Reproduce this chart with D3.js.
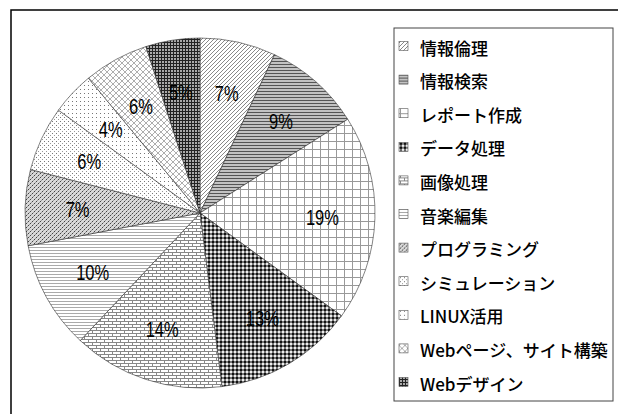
<!DOCTYPE html>
<html lang="ja">
<head>
<meta charset="UTF-8">
<title>pie</title>
<style>
  body { margin: 0; background: #fff; }
  svg { display: block; }
  .pct { font-family: "Liberation Sans", Arial, sans-serif; font-size: 22px; fill: #000; }
  .leg { font-family: "Noto Sans CJK JP", sans-serif; font-size: 17px; font-weight: 500; fill: #000; }
</style>
</head>
<body>
<div id="chart"></div>
<script src="https://d3js.org/d3.v7.min.js"></script>
<script>
// data
const categories = ["情報倫理", "情報検索", "レポート作成", "データ処理", "画像処理", "音楽編集",
  "プログラミング", "シミュレーション", "LINUX活用", "Webページ、サイト構築", "Webデザイン"];
const percents = [7, 9, 19, 13, 14, 10, 7, 6, 4, 6, 5];

const width = 618, height = 414;
const cx = 200, cy = 213, radius = 175;

const svg = d3.select("#chart").append("svg")
  .attr("width", width)
  .attr("height", height);

// fill patterns, one per slice
const defs = svg.append("defs");
function pattern(id, w, h, draw) {
  const p = defs.append("pattern")
    .attr("id", id)
    .attr("patternUnits", "userSpaceOnUse")
    .attr("width", w).attr("height", h);
  draw(p);
}
function bg(p, w, h, c) { p.append("rect").attr("width", w).attr("height", h).attr("fill", c); }
function dot(p, x, y, c, s) { p.append("rect").attr("x", x).attr("y", y).attr("width", s || 1).attr("height", s || 1).attr("fill", c); }
function line(p, d, c, sw) { p.append("path").attr("d", d).attr("stroke", c).attr("stroke-width", sw || 1).attr("fill", "none"); }

const patSize = [[4,4],[3,3],[8,8],[4,4],[8,6],[3,3],[4,4],[4,4],[4,4],[6,6],[3,3]];
const drawers = [
  p => { bg(p, 4, 4, "#fff"); line(p, "M-1,1L1,-1M0,4L4,0M3,5L5,3", "#888", 1); },
  p => { bg(p, 3, 3, "#fff"); line(p, "M0,1.5H3", "#555", 1.7); },
  p => { bg(p, 8, 8, "#fff"); line(p, "M0.5,0V8M0,0.5H8", "#999", 1); },
  p => { bg(p, 4, 4, "#777"); dot(p, 0, 0, "#111", 2); dot(p, 2, 2, "#eee", 2); },
  p => { bg(p, 8, 6, "#fff"); line(p, "M0,0.5H8M0,3.5H8M0.5,0V3M4.5,3V6", "#888", 1); },
  p => { bg(p, 3, 3, "#fff"); line(p, "M0,1.5H3", "#aaa", 1); },
  p => { bg(p, 4, 4, "#d8d8d8"); dot(p, 0, 0, "#444"); dot(p, 2, 2, "#444"); dot(p, 1, 3, "#999"); dot(p, 3, 1, "#999"); },
  p => { bg(p, 4, 4, "#fff"); dot(p, 0, 0, "#777"); dot(p, 2, 2, "#999"); },
  p => { bg(p, 4, 4, "#fff"); dot(p, 0, 0, "#777"); },
  p => { bg(p, 6, 6, "#fff"); line(p, "M-1,1L1,-1M0,6L6,0M5,7L7,5M-1,5L1,7M0,0L6,6M5,-1L7,1", "#999", 0.8); },
  p => { bg(p, 3, 3, "#aaa"); line(p, "M0.5,0V3M0,0.5H3", "#222", 1); }
];
drawers.forEach((d, i) => pattern("pat" + i, patSize[i][0], patSize[i][1], d));

// outer frame
svg.append("rect")
  .attr("x", 11).attr("y", 10)
  .attr("width", 640).attr("height", 440)
  .attr("fill", "none").attr("stroke", "#000").attr("stroke-width", 1.5);

// pie
const pie = d3.pie().sort(null).value(d => d);
const arcs = pie(percents);
const arc = d3.arc().innerRadius(0).outerRadius(radius);
const labelArc = d3.arc().innerRadius(radius * 0.7).outerRadius(radius * 0.7);

const g = svg.append("g").attr("transform", `translate(${cx},${cy})`);
g.selectAll("path.slice")
  .data(arcs)
  .join("path")
  .attr("class", "slice")
  .attr("d", arc)
  .attr("fill", (d, i) => `url(#pat${i})`)
  .attr("stroke", "#333")
  .attr("stroke-width", 0.6);

g.selectAll("text.pct")
  .data(arcs)
  .join("text")
  .attr("class", "pct")
  .attr("transform", d => `translate(${labelArc.centroid(d)}) scale(0.75,1)`)
  .attr("text-anchor", "middle")
  .attr("dominant-baseline", "central")
  .text(d => d.data + "%");

// legend
const legX = 394, legY = 28, legW = 219, legH = 373;
const rowY = d3.scalePoint().domain(categories).range([46, 382]);
const leg = svg.append("g");
leg.append("rect")
  .attr("x", legX).attr("y", legY)
  .attr("width", legW).attr("height", legH)
  .attr("fill", "#fff").attr("stroke", "#444").attr("stroke-width", 1);

const items = leg.selectAll("g.item")
  .data(categories)
  .join("g")
  .attr("class", "item")
  .attr("transform", d => `translate(0,${rowY(d)})`);
items.append("rect")
  .attr("x", 399).attr("y", -4.5)
  .attr("width", 9).attr("height", 9)
  .attr("fill", (d, i) => `url(#pat${i})`)
  .attr("stroke", "#555").attr("stroke-width", 0.6);
items.append("text")
  .attr("class", "leg")
  .attr("x", 420).attr("y", 1)
  .attr("dominant-baseline", "central")
  .text(d => d);
</script>
</body>
</html>
